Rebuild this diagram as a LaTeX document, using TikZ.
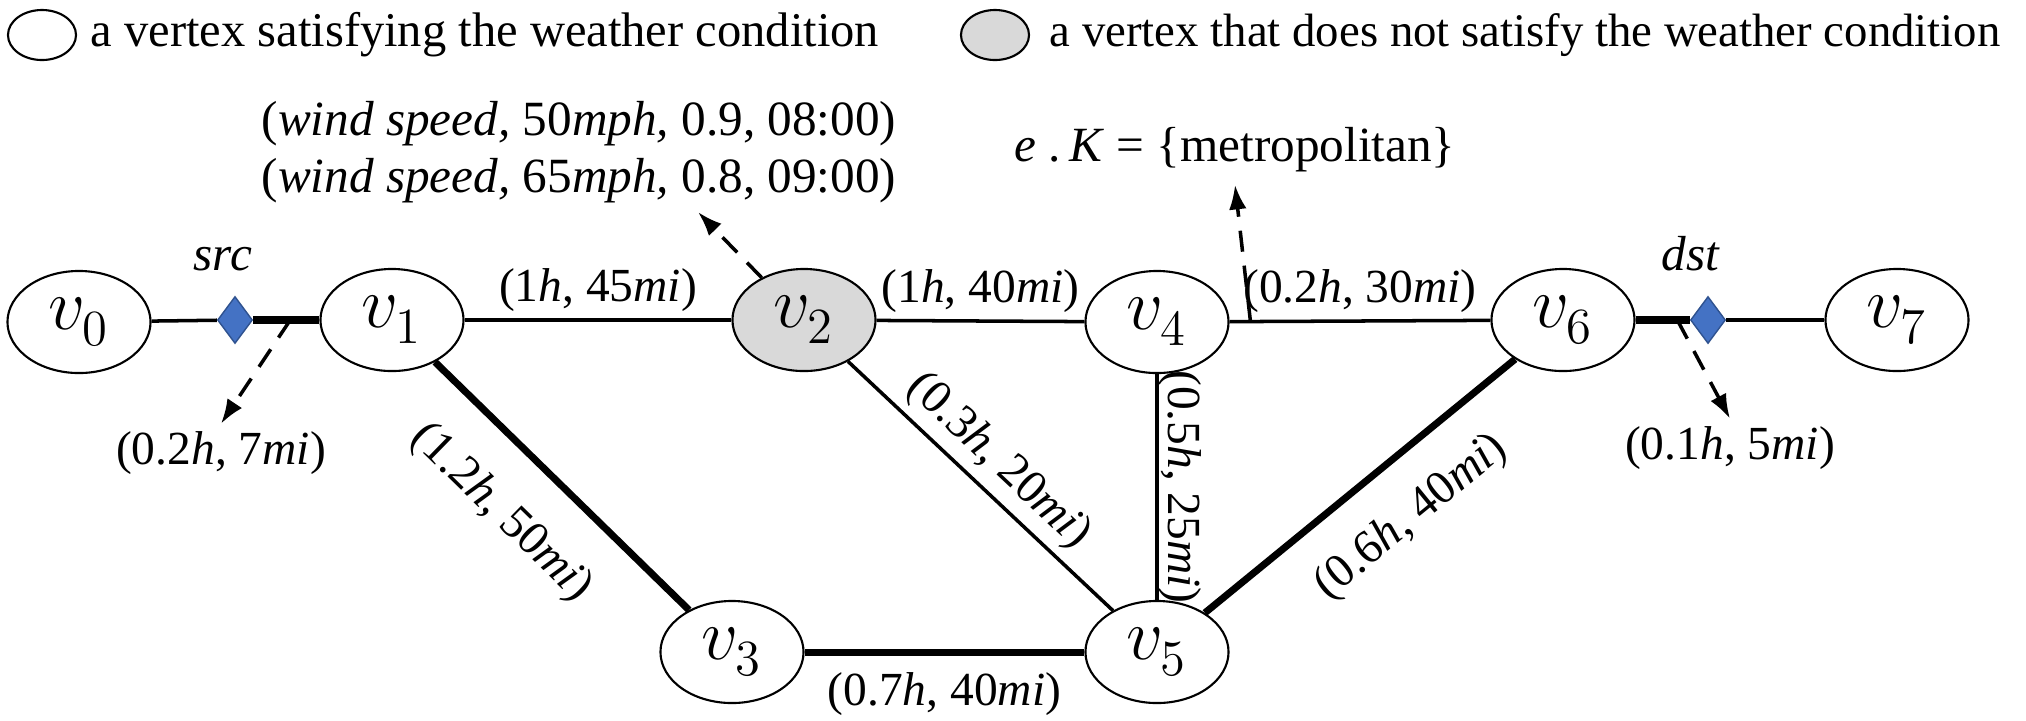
\documentclass[tikz,border=0pt]{standalone}
\usepackage{fontspec}
\setmainfont{Liberation Serif}
\usetikzlibrary{positioning, arrows.meta, shapes.geometric}
\definecolor{Grey}{HTML}{D9D9D9}
\definecolor{Blue}{HTML}{4472C4}
\definecolor{BlueDark}{HTML}{2F528F}
\newcommand{\vx}[1]{$v_{\raisebox{-1.5pt}{$\scriptstyle #1$}}$}
\tikzset{
    vertex/.style={ellipse, draw=black, line width=0.6pt, fill=white, minimum width=1.43cm, minimum height=1.02cm, inner sep=0pt, font=\fontsize{19.5}{22}\selectfont},
    badvertex/.style={vertex, fill=Grey},
    legendnode/.style={ellipse, draw=black, line width=0.6pt, minimum width=0.68cm, minimum height=0.5cm, inner sep=0pt},
    legendtext/.style={anchor=west, inner sep=0pt, font=\fontsize{13.8}{16}\selectfont},
    endpoint/.style={diamond, fill=Blue, draw=BlueDark, line width=0.4pt, minimum width=0.35cm, minimum height=0.47cm, inner sep=0pt},
    thinedge/.style={line width=1pt},
    thickedge/.style={line width=2pt},
    weight/.style={font=\fontsize{13.5}{16}\selectfont, inner sep=2pt},
    note/.style={font=\fontsize{14}{16.2}\selectfont, align=center},
    arrow/.style={-{Latex[length=7pt,width=5pt]}, line width=1pt, dash pattern=on 6pt off 4pt},
}
\begin{document}
\begin{tikzpicture}[x=0.01cm, y=-0.01cm]
    \useasboundingbox (0,0) rectangle (2026,720);

    % legend
    \node[legendnode] (lgood) at (42,35) {};
    \node[legendtext] (lgoodtxt) at (90,35) {a vertex satisfying the weather condition};
    \node[legendnode, fill=Grey] (lbad) at (995,35) {};
    \node[legendtext, font=\fontsize{13.3}{16}\selectfont] (lbadtxt) at (1049,35) {a vertex that does not satisfy the weather condition};

    % vertices
    \node[vertex] (v0) at (79,322) {\vx{0}};
    \node[vertex] (v1) at (392,320) {\vx{1}};
    \node[badvertex] (v2) at (804,320) {\vx{2}};
    \node[vertex] (v3) at (732,652) {\vx{3}};
    \node[vertex] (v4) at (1157,322) {\vx{4}};
    \node[vertex] (v5) at (1157,652) {\vx{5}};
    \node[vertex] (v6) at (1563,320) {\vx{6}};
    \node[vertex] (v7) at (1897,320) {\vx{7}};

    % source / destination
    \node[endpoint] (src) at (235,320) {};
    \node[endpoint] (dst) at (1708,320) {};
    \node[note, above=0.12cm of src, xshift=-0.12cm] (srclbl) {\textit{src}};
    \node[note, above=0.12cm of dst, xshift=-0.17cm] (dstlbl) {\textit{dst}};

    % edges
    \draw[thinedge] (v0) -- (src);
    \draw[thickedge] (src) -- coordinate[pos=0.56] (srcpt) (v1);
    \draw[thinedge] (v1) -- node[weight, above] (w12) {(1\textit{h}, 45\textit{mi})} (v2);
    \draw[thinedge] (v2) -- node[weight, above] (w24) {(1\textit{h}, 40\textit{mi})} (v4);
    \draw[thinedge] (v4) -- coordinate[pos=0.08] (ekpt) node[weight, above] (w46) {(0.2\textit{h}, 30\textit{mi})} (v6);
    \draw[thickedge] (v6) -- coordinate[pos=0.77] (dstpt) (dst);
    \draw[thinedge] (dst) -- (v7);
    \draw[thickedge] (v1) -- node[weight, sloped, below=0.3cm, pos=0.43] (w13) {(1.2\textit{h}, 50\textit{mi})} (v3);
    \draw[thinedge] (v2) -- node[weight, sloped, above, pos=0.49] (w25) {(0.3\textit{h}, 20\textit{mi})} (v5);
    \draw[thinedge] (v4) -- node[weight, sloped, above=-2pt] (w45) {(0.5\textit{h}, 25\textit{mi})} (v5);
    \draw[thickedge] (v3) -- node[weight, below=0.1cm] (w35) {(0.7\textit{h}, 40\textit{mi})} (v5);
    \draw[thickedge] (v5) -- node[weight, sloped, below=0.25cm, pos=0.55] (w56) {(0.6\textit{h}, 40\textit{mi})} (v6);

    % annotations
    \node[weight] (srcw) at (221,453) {(0.2\textit{h}, 7\textit{mi})};
    \node[weight] (dstw) at (1730,448) {(0.1\textit{h}, 5\textit{mi})};
    \node[note] (wind) at (579,152) {(\textit{wind speed,} 50\textit{mph,} 0.9, 08:00)\\(\textit{wind speed,} 65\textit{mph,} 0.8, 09:00)};
    \node[note] (ek) at (1235,150) {\textit{e} .\,\textit{K} = \{metropolitan\}};
    \coordinate (windtip) at (698,212);

    \draw[arrow] (srcpt) -- (srcw.north);
    \draw[arrow] (dstpt) -- (dstw.north);
    \draw[arrow] (v2.135) -- (windtip);
    \draw[arrow] (ekpt) -- (ek.south);
\end{tikzpicture}
\end{document}
